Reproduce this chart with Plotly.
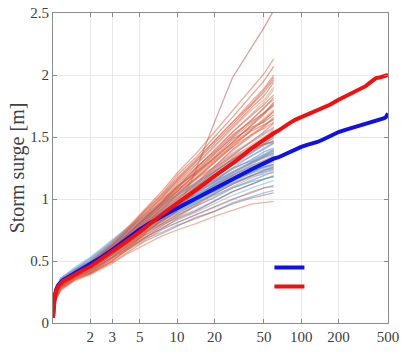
import plotly.graph_objects as go

# Return periods [years]
X_THICK = [1.0, 1.01, 1.03, 1.06, 1.1, 1.2, 1.4, 1.7, 2, 2.5, 3, 4, 5, 6, 7, 8, 10, 12, 15, 20, 25, 30,
           40, 50, 60, 65, 70, 75, 80, 90, 100, 110, 120, 135, 150, 170, 200, 230, 260, 300, 330, 360,
           400, 430, 460, 480, 500]
RED_THICK = [0.04, 0.12, 0.20, 0.26, 0.295, 0.335, 0.375, 0.42, 0.455, 0.52, 0.575, 0.665, 0.735, 0.80,
             0.855, 0.895, 0.965, 1.02, 1.09, 1.185, 1.25, 1.31, 1.41, 1.48, 1.53, 1.55, 1.575, 1.59,
             1.61, 1.64, 1.66, 1.675, 1.69, 1.71, 1.73, 1.76, 1.80, 1.83, 1.855, 1.885, 1.91, 1.94,
             1.975, 1.98, 1.99, 1.995, 2.0]
BLUE_THICK = [0.05, 0.13, 0.21, 0.27, 0.305, 0.345, 0.385, 0.43, 0.47, 0.535, 0.59, 0.685, 0.755, 0.805,
              0.845, 0.875, 0.925, 0.965, 1.02, 1.085, 1.135, 1.175, 1.24, 1.29, 1.325, 1.335, 1.35,
              1.36, 1.38, 1.40, 1.42, 1.435, 1.445, 1.46, 1.48, 1.51, 1.54, 1.56, 1.575, 1.59, 1.605,
              1.615, 1.63, 1.64, 1.65, 1.66, 1.69]

X_THIN = [1, 1.03, 1.15, 1.5, 2, 3, 4, 5.5, 7.5, 10, 14, 20, 28, 40, 50, 60]
RED_THIN = [
    [0.04, 0.16, 0.26, 0.34, 0.39, 0.48, 0.56, 0.63, 0.70, 0.75, 0.80, 0.86, 0.91, 0.96, 0.97, 0.98],
    [0.05, 0.17, 0.27, 0.35, 0.40, 0.49, 0.57, 0.66, 0.72, 0.78, 0.85, 0.90, 0.96, 1.01, 1.03, 1.05],
    [0.06, 0.18, 0.28, 0.36, 0.41, 0.51, 0.59, 0.67, 0.75, 0.81, 0.87, 0.94, 1.00, 1.06, 1.09, 1.10],
    [0.05, 0.18, 0.28, 0.36, 0.41, 0.52, 0.60, 0.69, 0.76, 0.84, 0.90, 0.98, 1.06, 1.12, 1.16, 1.18],
    [0.06, 0.19, 0.30, 0.38, 0.43, 0.53, 0.61, 0.70, 0.79, 0.85, 0.94, 1.02, 1.10, 1.17, 1.21, 1.23],
    [0.04, 0.18, 0.29, 0.37, 0.42, 0.53, 0.62, 0.71, 0.80, 0.88, 0.96, 1.05, 1.15, 1.21, 1.26, 1.28],
    [0.07, 0.20, 0.31, 0.38, 0.44, 0.55, 0.63, 0.73, 0.81, 0.90, 0.99, 1.09, 1.17, 1.25, 1.30, 1.33],
    [0.05, 0.19, 0.30, 0.39, 0.44, 0.55, 0.64, 0.74, 0.83, 0.91, 1.01, 1.12, 1.21, 1.30, 1.35, 1.39],
    [0.06, 0.20, 0.31, 0.38, 0.45, 0.56, 0.65, 0.75, 0.85, 0.94, 1.04, 1.14, 1.25, 1.35, 1.40, 1.45],
    [0.05, 0.20, 0.31, 0.39, 0.45, 0.57, 0.66, 0.76, 0.86, 0.95, 1.06, 1.17, 1.28, 1.38, 1.45, 1.50],
    [0.06, 0.21, 0.32, 0.40, 0.46, 0.58, 0.67, 0.78, 0.88, 0.98, 1.08, 1.20, 1.31, 1.42, 1.49, 1.56],
    [0.05, 0.20, 0.31, 0.39, 0.45, 0.58, 0.68, 0.79, 0.89, 1.00, 1.11, 1.23, 1.35, 1.47, 1.54, 1.61],
    [0.07, 0.21, 0.32, 0.40, 0.46, 0.59, 0.69, 0.80, 0.91, 1.02, 1.13, 1.26, 1.39, 1.51, 1.58, 1.66],
    [0.06, 0.21, 0.32, 0.40, 0.47, 0.60, 0.70, 0.82, 0.93, 1.04, 1.16, 1.29, 1.42, 1.56, 1.63, 1.71],
    [0.05, 0.20, 0.32, 0.41, 0.47, 0.60, 0.71, 0.83, 0.95, 1.06, 1.19, 1.33, 1.46, 1.60, 1.68, 1.77],
    [0.07, 0.22, 0.33, 0.41, 0.48, 0.61, 0.72, 0.85, 0.96, 1.09, 1.21, 1.36, 1.50, 1.64, 1.73, 1.82],
    [0.06, 0.21, 0.33, 0.41, 0.48, 0.62, 0.73, 0.86, 0.99, 1.11, 1.24, 1.40, 1.54, 1.69, 1.78, 1.88],
    [0.05, 0.21, 0.32, 0.42, 0.49, 0.63, 0.74, 0.88, 1.00, 1.14, 1.27, 1.43, 1.58, 1.74, 1.83, 1.94],
    [0.07, 0.22, 0.33, 0.42, 0.49, 0.63, 0.75, 0.89, 1.02, 1.16, 1.30, 1.47, 1.62, 1.79, 1.89, 2.00],
    [0.06, 0.22, 0.34, 0.42, 0.50, 0.64, 0.76, 0.91, 1.04, 1.19, 1.33, 1.50, 1.66, 1.84, 1.95, 2.07],
    [0.07, 0.23, 0.34, 0.43, 0.50, 0.65, 0.77, 0.92, 1.06, 1.21, 1.36, 1.54, 1.71, 1.89, 2.01, 2.13],
    [0.06, 0.21, 0.32, 0.40, 0.45, 0.56, 0.64, 0.73, 0.82, 0.90, 1.22, 1.62, 1.98, 2.22, 2.38, 2.52],
    [0.06, 0.22, 0.33, 0.42, 0.50, 0.66, 0.78, 0.90, 1.00, 1.08, 1.16, 1.25, 1.34, 1.40, 1.44, 1.47],
    [0.05, 0.18, 0.28, 0.36, 0.40, 0.50, 0.60, 0.72, 0.85, 0.99, 1.12, 1.26, 1.40, 1.52, 1.59, 1.65],
    [0.06, 0.20, 0.31, 0.39, 0.45, 0.57, 0.67, 0.79, 0.90, 1.01, 1.12, 1.24, 1.36, 1.46, 1.52, 1.57],
    [0.05, 0.21, 0.32, 0.41, 0.47, 0.61, 0.72, 0.86, 0.98, 1.12, 1.25, 1.38, 1.52, 1.63, 1.70, 1.75],
    [0.06, 0.19, 0.29, 0.37, 0.42, 0.53, 0.63, 0.75, 0.85, 0.95, 1.05, 1.14, 1.22, 1.30, 1.34, 1.37],
    [0.07, 0.21, 0.32, 0.40, 0.46, 0.59, 0.70, 0.82, 0.94, 1.06, 1.20, 1.34, 1.48, 1.58, 1.62, 1.68],
    [0.05, 0.20, 0.31, 0.39, 0.45, 0.58, 0.69, 0.81, 0.93, 1.03, 1.15, 1.29, 1.43, 1.56, 1.65, 1.72],
    [0.06, 0.21, 0.32, 0.40, 0.46, 0.58, 0.68, 0.80, 0.92, 1.03, 1.16, 1.30, 1.44, 1.55, 1.60, 1.64],
    [0.05, 0.18, 0.28, 0.36, 0.41, 0.52, 0.62, 0.73, 0.84, 0.96, 1.10, 1.25, 1.35, 1.42, 1.48, 1.52],
    [0.05, 0.19, 0.29, 0.37, 0.42, 0.53, 0.62, 0.72, 0.83, 0.93, 1.05, 1.18, 1.30, 1.41, 1.47, 1.51],
    [0.06, 0.20, 0.31, 0.39, 0.45, 0.58, 0.69, 0.82, 0.95, 1.08, 1.22, 1.37, 1.49, 1.62, 1.70, 1.76],
    [0.07, 0.21, 0.32, 0.41, 0.48, 0.62, 0.74, 0.87, 1.01, 1.15, 1.29, 1.45, 1.60, 1.76, 1.86, 1.96],
    [0.05, 0.20, 0.31, 0.39, 0.44, 0.56, 0.66, 0.78, 0.89, 0.99, 1.09, 1.21, 1.33, 1.44, 1.50, 1.55],
    [0.06, 0.21, 0.33, 0.42, 0.49, 0.63, 0.75, 0.90, 1.03, 1.17, 1.31, 1.47, 1.62, 1.77, 1.88, 1.98],
    [0.05, 0.18, 0.28, 0.36, 0.41, 0.52, 0.62, 0.73, 0.83, 0.91, 1.00, 1.10, 1.19, 1.27, 1.31, 1.34],
    [0.06, 0.20, 0.31, 0.40, 0.46, 0.60, 0.71, 0.84, 0.97, 1.10, 1.24, 1.39, 1.54, 1.68, 1.76, 1.84],
    [0.07, 0.22, 0.33, 0.41, 0.47, 0.60, 0.71, 0.84, 0.96, 1.07, 1.19, 1.32, 1.45, 1.57, 1.64, 1.70],
    [0.05, 0.19, 0.29, 0.37, 0.43, 0.55, 0.65, 0.76, 0.87, 0.97, 1.09, 1.22, 1.32, 1.40, 1.44, 1.46],
    [0.06, 0.21, 0.32, 0.40, 0.47, 0.61, 0.73, 0.87, 1.00, 1.13, 1.27, 1.42, 1.57, 1.72, 1.80, 1.90],
    [0.05, 0.17, 0.27, 0.35, 0.40, 0.50, 0.59, 0.69, 0.78, 0.86, 0.95, 1.04, 1.12, 1.19, 1.23, 1.25],
    [0.06, 0.21, 0.32, 0.41, 0.47, 0.60, 0.70, 0.83, 0.96, 1.09, 1.23, 1.37, 1.51, 1.64, 1.74, 1.80],
    [0.07, 0.22, 0.33, 0.41, 0.48, 0.61, 0.72, 0.84, 0.97, 1.10, 1.21, 1.33, 1.46, 1.60, 1.69, 1.78],
    [0.05, 0.20, 0.31, 0.39, 0.45, 0.57, 0.67, 0.79, 0.91, 1.04, 1.17, 1.31, 1.42, 1.52, 1.57, 1.62],
]
BLUE_THIN = [
    [0.04, 0.18, 0.29, 0.37, 0.43, 0.53, 0.60, 0.68, 0.73, 0.79, 0.84, 0.90, 0.97, 1.02, 1.05, 1.07],
    [0.05, 0.19, 0.30, 0.38, 0.44, 0.54, 0.62, 0.69, 0.76, 0.81, 0.87, 0.94, 1.00, 1.05, 1.09, 1.11],
    [0.06, 0.19, 0.30, 0.38, 0.44, 0.55, 0.63, 0.71, 0.77, 0.83, 0.89, 0.96, 1.03, 1.09, 1.12, 1.15],
    [0.05, 0.20, 0.31, 0.39, 0.45, 0.56, 0.64, 0.73, 0.79, 0.85, 0.91, 0.99, 1.06, 1.12, 1.16, 1.19],
    [0.07, 0.21, 0.32, 0.40, 0.47, 0.58, 0.66, 0.74, 0.80, 0.87, 0.94, 1.01, 1.09, 1.15, 1.19, 1.22],
    [0.05, 0.20, 0.31, 0.39, 0.46, 0.57, 0.66, 0.75, 0.82, 0.89, 0.96, 1.04, 1.12, 1.19, 1.23, 1.26],
    [0.06, 0.22, 0.33, 0.41, 0.48, 0.60, 0.69, 0.78, 0.84, 0.91, 0.98, 1.07, 1.15, 1.22, 1.27, 1.30],
    [0.07, 0.21, 0.32, 0.40, 0.47, 0.59, 0.69, 0.78, 0.85, 0.93, 1.01, 1.09, 1.17, 1.25, 1.30, 1.34],
    [0.05, 0.21, 0.32, 0.41, 0.47, 0.60, 0.70, 0.80, 0.87, 0.95, 1.03, 1.12, 1.20, 1.28, 1.34, 1.38],
    [0.06, 0.22, 0.33, 0.41, 0.48, 0.61, 0.71, 0.81, 0.89, 0.97, 1.06, 1.15, 1.24, 1.32, 1.38, 1.41],
    [0.07, 0.23, 0.35, 0.43, 0.50, 0.63, 0.73, 0.83, 0.91, 0.99, 1.08, 1.18, 1.27, 1.35, 1.41, 1.45],
    [0.06, 0.22, 0.34, 0.42, 0.49, 0.63, 0.73, 0.84, 0.93, 1.01, 1.10, 1.20, 1.30, 1.39, 1.45, 1.49],
    [0.08, 0.24, 0.36, 0.44, 0.52, 0.65, 0.76, 0.86, 0.95, 1.04, 1.13, 1.23, 1.33, 1.43, 1.49, 1.53],
    [0.07, 0.24, 0.36, 0.45, 0.53, 0.67, 0.77, 0.88, 0.97, 1.06, 1.16, 1.26, 1.37, 1.47, 1.53, 1.58],
    [0.06, 0.21, 0.32, 0.40, 0.46, 0.58, 0.68, 0.77, 0.85, 0.92, 0.99, 1.06, 1.13, 1.19, 1.22, 1.24],
    [0.05, 0.21, 0.32, 0.41, 0.48, 0.61, 0.71, 0.80, 0.87, 0.93, 1.00, 1.08, 1.16, 1.22, 1.25, 1.27],
    [0.07, 0.22, 0.34, 0.42, 0.49, 0.61, 0.70, 0.79, 0.86, 0.94, 1.02, 1.11, 1.19, 1.27, 1.31, 1.35],
    [0.06, 0.20, 0.31, 0.39, 0.45, 0.56, 0.65, 0.75, 0.83, 0.90, 0.97, 1.05, 1.12, 1.18, 1.20, 1.21],
    [0.05, 0.21, 0.32, 0.40, 0.47, 0.59, 0.68, 0.79, 0.87, 0.96, 1.05, 1.14, 1.22, 1.29, 1.33, 1.36],
    [0.06, 0.23, 0.35, 0.43, 0.50, 0.63, 0.73, 0.82, 0.90, 0.98, 1.06, 1.16, 1.25, 1.31, 1.36, 1.40],
    [0.07, 0.21, 0.32, 0.40, 0.46, 0.58, 0.67, 0.76, 0.83, 0.90, 0.97, 1.03, 1.09, 1.14, 1.16, 1.18],
    [0.05, 0.22, 0.33, 0.42, 0.49, 0.62, 0.73, 0.83, 0.91, 0.99, 1.07, 1.17, 1.28, 1.37, 1.44, 1.47],
    [0.06, 0.21, 0.32, 0.40, 0.47, 0.59, 0.69, 0.79, 0.86, 0.94, 1.02, 1.10, 1.18, 1.24, 1.28, 1.31],
    [0.07, 0.23, 0.35, 0.43, 0.50, 0.63, 0.73, 0.83, 0.92, 1.00, 1.09, 1.19, 1.29, 1.38, 1.43, 1.46],
    [0.05, 0.20, 0.31, 0.39, 0.45, 0.57, 0.66, 0.76, 0.84, 0.91, 0.99, 1.08, 1.16, 1.23, 1.26, 1.28],
    [0.06, 0.22, 0.33, 0.41, 0.48, 0.61, 0.71, 0.82, 0.90, 0.97, 1.05, 1.13, 1.21, 1.29, 1.34, 1.37],
    [0.08, 0.24, 0.36, 0.44, 0.52, 0.66, 0.76, 0.86, 0.94, 1.03, 1.12, 1.22, 1.32, 1.41, 1.47, 1.51],
    [0.05, 0.21, 0.32, 0.40, 0.46, 0.58, 0.67, 0.77, 0.85, 0.92, 1.00, 1.09, 1.17, 1.25, 1.29, 1.32],
    [0.06, 0.22, 0.34, 0.42, 0.49, 0.61, 0.70, 0.80, 0.88, 0.95, 1.04, 1.13, 1.22, 1.30, 1.35, 1.39],
    [0.07, 0.22, 0.33, 0.42, 0.48, 0.61, 0.71, 0.81, 0.89, 0.96, 1.03, 1.11, 1.19, 1.26, 1.30, 1.33],
    [0.05, 0.20, 0.31, 0.39, 0.46, 0.57, 0.66, 0.76, 0.83, 0.91, 0.98, 1.06, 1.14, 1.21, 1.24, 1.26],
    [0.06, 0.23, 0.35, 0.43, 0.51, 0.64, 0.75, 0.85, 0.94, 1.03, 1.12, 1.22, 1.32, 1.42, 1.48, 1.53],
]

X_TICKS = [2, 3, 5, 10, 20, 50, 100, 200, 500]
Y_TICKS = [0, 0.5, 1, 1.5, 2, 2.5]
Y_TICK_TEXT = ["0", "0.5", "1", "1.5", "2", "2.5"]
Y_TITLE = "Storm surge [m]"

RED_PAL = ["rgba(228,120,92,0.55)", "rgba(196,82,60,0.5)", "rgba(236,104,70,0.55)",
           "rgba(180,72,60,0.5)", "rgba(240,150,120,0.6)", "rgba(222,90,58,0.55)"]
BLUE_PAL = ["rgba(85,175,235,0.6)", "rgba(100,160,215,0.55)", "rgba(110,195,245,0.6)",
            "rgba(120,165,210,0.55)", "rgba(70,150,220,0.6)"]

FONT = "Liberation Serif"

fig = go.Figure()
n = max(len(RED_THIN), len(BLUE_THIN))
for i in range(n):
    if i < len(BLUE_THIN):
        fig.add_trace(go.Scatter(x=X_THIN, y=BLUE_THIN[i], mode="lines",
                                 line=dict(color=BLUE_PAL[i % len(BLUE_PAL)], width=1.3),
                                 showlegend=False, hoverinfo="skip"))
    if i < len(RED_THIN):
        fig.add_trace(go.Scatter(x=X_THIN, y=RED_THIN[i], mode="lines",
                                 line=dict(color=RED_PAL[i % len(RED_PAL)], width=1.3),
                                 showlegend=False, hoverinfo="skip"))

fig.add_trace(go.Scatter(x=X_THICK, y=BLUE_THICK, mode="lines", name=" ",
                         line=dict(color="#1010e8", width=4)))
fig.add_trace(go.Scatter(x=X_THICK, y=RED_THICK, mode="lines", name=" ",
                         line=dict(color="#f01010", width=4)))

axis_common = dict(showline=True, linecolor="#8c8c8c", linewidth=1, mirror="ticks",
                   ticks="inside", ticklen=4, tickcolor="#8c8c8c", automargin=False,
                   showgrid=True, gridcolor="#e8e8e8", gridwidth=1, zeroline=False,
                   tickfont=dict(family=FONT, size=15, color="#404040"))

fig.update_xaxes(type="log", range=[0, 2.69897], tickvals=X_TICKS,
                 ticktext=[str(v) for v in X_TICKS], **axis_common)
fig.update_yaxes(range=[0, 2.5], tickvals=Y_TICKS, ticktext=Y_TICK_TEXT,
                 title=dict(text=Y_TITLE, font=dict(family=FONT, size=20, color="#404040"),
                            standoff=0), **axis_common)

fig.update_layout(
    width=403, height=354,
    margin=dict(l=53, r=15, t=13, b=31, autoexpand=False),
    font=dict(family=FONT, color="#404040"),
    plot_bgcolor="white", paper_bgcolor="white",
    legend=dict(x=0.646, y=0.226, xanchor="left", yanchor="top", bgcolor="rgba(0,0,0,0)",
                font=dict(size=10), tracegroupgap=0, itemwidth=30),
)

fig.write_html("out.html", config={"displayModeBar": False},
               post_script="document.body.style.margin='0';")
